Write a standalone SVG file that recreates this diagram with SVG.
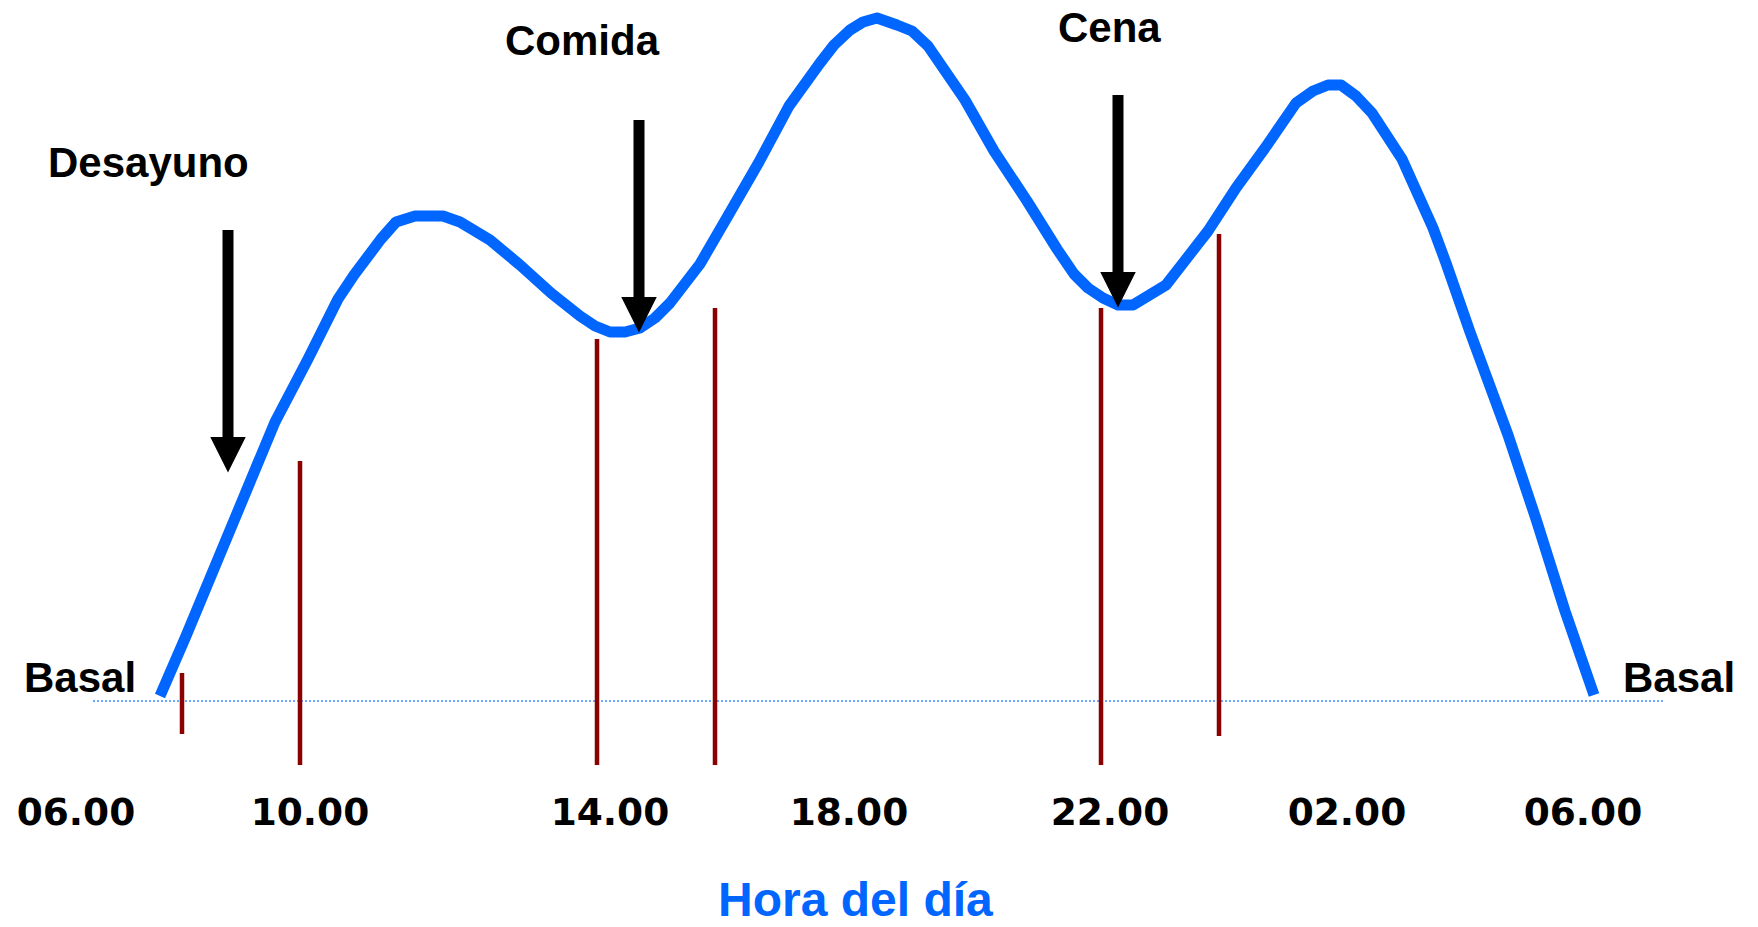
<svg xmlns="http://www.w3.org/2000/svg" width="1758" height="927" viewBox="0 0 1758 927">
<style>
.lbl{font-family:"Liberation Sans",Arial,sans-serif;font-weight:bold;font-size:42px;fill:#000}
.time{font-family:"DejaVu Sans",Verdana,sans-serif;font-weight:bold;font-size:37.5px;fill:#000}
.axis{font-family:"Liberation Sans",Arial,sans-serif;font-weight:bold;font-size:48px;fill:#0066FF}
.red{stroke:#8B0000;stroke-width:4.5;fill:none}
.curve{stroke:#0066FF;stroke-width:11;fill:none;stroke-linejoin:round}
.arrow{stroke:#000;stroke-width:11;fill:none}
</style>
<defs>
<marker id="ah" markerUnits="userSpaceOnUse" markerWidth="38" markerHeight="38" viewBox="0 0 38 38" refX="0.5" refY="19" orient="auto">
<path d="M0,1 L36,19 L0,37 Z" fill="#000"/>
</marker>
</defs>
<rect width="1758" height="927" fill="#fff"/>
<line x1="93" y1="701" x2="1663" y2="701" stroke="#3A8DFF" stroke-width="1.5" stroke-dasharray="2,2"/>
<g id="markers">
<line class="red" x1="182" y1="673" x2="182" y2="734"/>
<line class="red" x1="300" y1="461" x2="300" y2="765"/>
<line class="red" x1="597" y1="339" x2="597" y2="765"/>
<line class="red" x1="715" y1="308" x2="715" y2="765"/>
<line class="red" x1="1101" y1="308" x2="1101" y2="765"/>
<line class="red" x1="1219" y1="234" x2="1219" y2="736"/>
</g>
<g id="curve">
<polyline class="curve" points="160,696 186,636 275,422 308,359 338,299 354,275 381,239 396,222 415,216 443,216 460,222 490,240 520,265 551,293 580,316 595,326 610,332 625,332 640,328 655,318 670,303 700,264 729,214 759,162 789,106 820,63 834,45 850,30 863,22 877,18 897,25 912,31 928,46 965,100 994,151 1027,201 1057,249 1074,274 1088,288 1103,298 1118,305 1133,305 1166,285 1208,231 1236,188 1265,148 1296,103 1313,91 1328,85 1341,85 1356,96 1372,113 1402,159 1433,228 1446,263 1470,332 1508,435 1536,519 1565,611 1594,695"/>
</g>
<g id="connectors">
<line class="arrow" x1="228" y1="230" x2="228" y2="437" marker-end="url(#ah)"/>
<line class="arrow" x1="639" y1="120" x2="639" y2="297" marker-end="url(#ah)"/>
<line class="arrow" x1="1118" y1="95" x2="1118" y2="272" marker-end="url(#ah)"/>
</g>
<g id="labels">
<text class="lbl" x="48" y="177">Desayuno</text>
<text class="lbl" x="505" y="55">Comida</text>
<text class="lbl" x="1058" y="42">Cena</text>
<text class="lbl" x="24" y="692">Basal</text>
<text class="lbl" x="1623" y="692">Basal</text>
</g>
<g id="times" text-anchor="middle">
<text class="time" x="76" y="825">06.00</text>
<text class="time" x="310" y="825">10.00</text>
<text class="time" x="610" y="825">14.00</text>
<text class="time" x="849" y="825">18.00</text>
<text class="time" x="1110" y="825">22.00</text>
<text class="time" x="1347" y="825">02.00</text>
<text class="time" x="1583" y="825">06.00</text>
</g>
<text class="axis" x="718" y="916">Hora del día</text>
</svg>
